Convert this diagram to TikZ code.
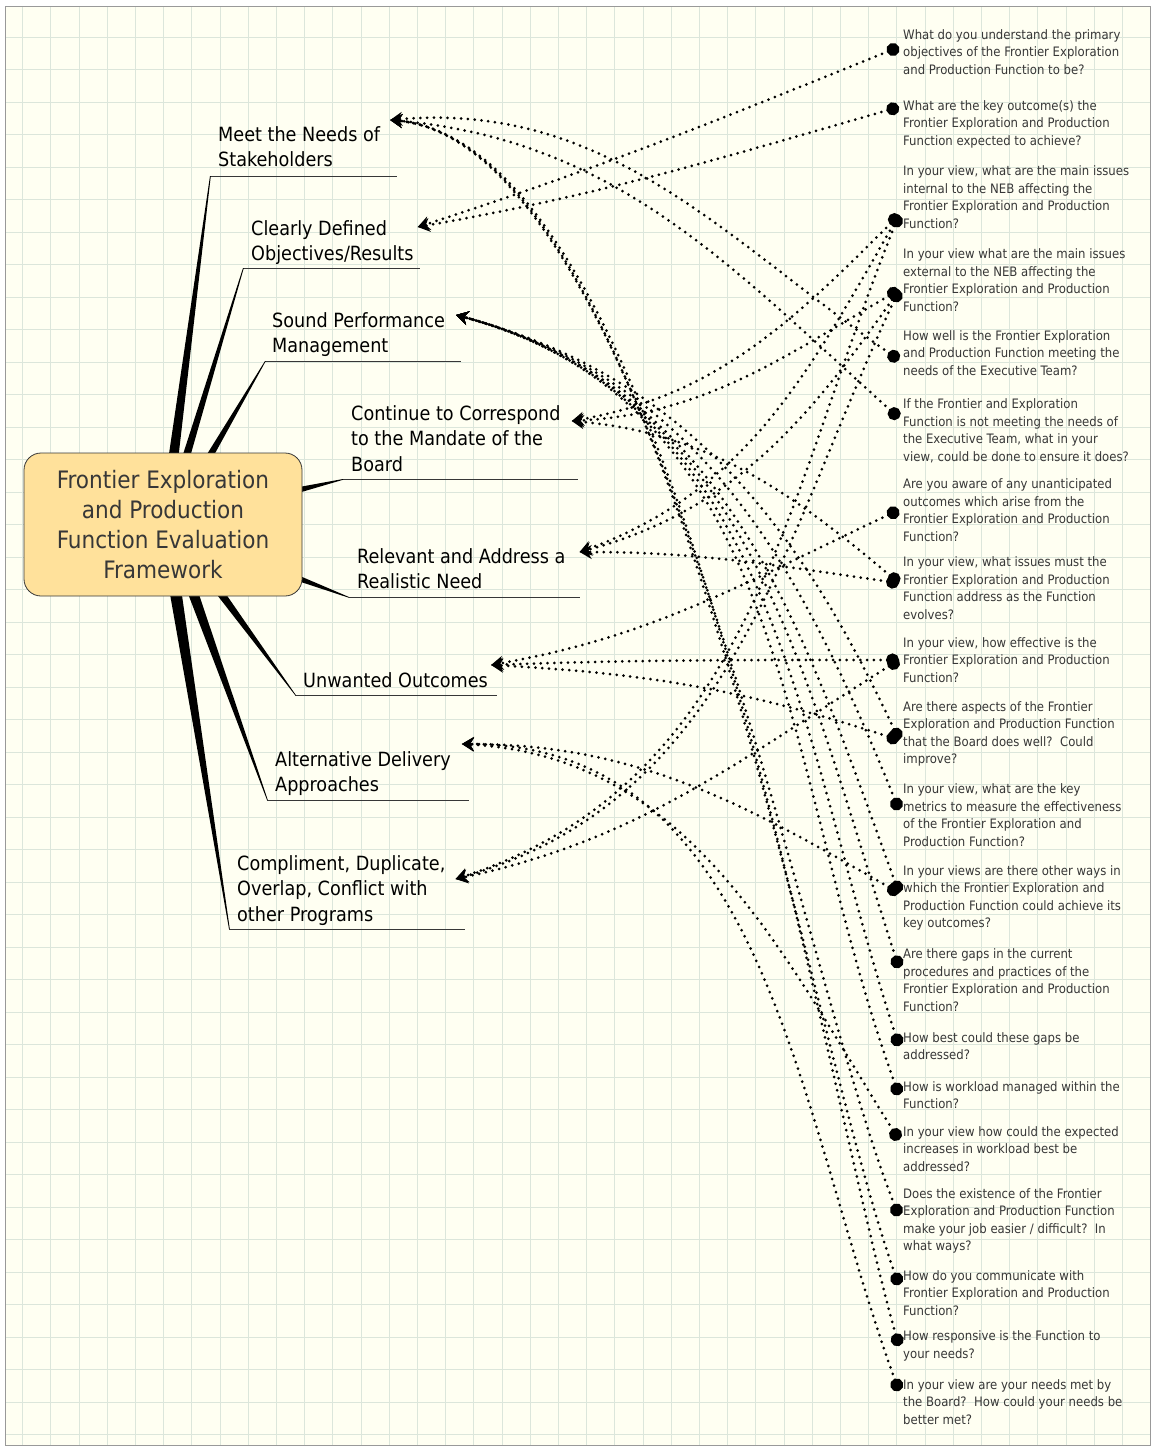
\documentclass[tikz,border=0pt]{standalone}
\usepackage{fontspec}
\setmainfont{DejaVu Sans Condensed}
\usepackage{tikz}
\usetikzlibrary{arrows.meta, calc, positioning, backgrounds}

\definecolor{paper}{RGB}{255,255,242}
\definecolor{gridgreen}{RGB}{220,230,219}
\definecolor{hubfill}{RGB}{255,225,155}
\definecolor{darkink}{RGB}{55,55,55}

\tikzset{
  hub/.style={draw=darkink, line width=0.8pt, fill=hubfill, rounded corners=17pt,
    minimum width=278pt, minimum height=143pt, align=center, text=darkink,
    font=\fontsize{24}{29.7}\selectfont},
  topic/.style={anchor=north west, align=left, inner sep=0pt, text=black,
    font=\fontsize{19.6}{25.8}\selectfont},
  question/.style={anchor=west, align=left, inner xsep=4pt, inner ysep=0pt, text=darkink,
    font=\fontsize{13}{17.5}\selectfont},
  branch/.style={fill=black},
  underline/.style={draw=darkink, line width=0.9pt},
  link/.style={line width=3pt, line cap=round, dash pattern=on 0pt off 6.8pt,
    arrows={Circle[length=13pt,width=13pt]-Stealth[length=12pt,width=14pt,inset=4pt]}},
}

\begin{document}
\begin{tikzpicture}[x=1pt, y=-1pt]
% Grid parameters
\pgfmathsetmacro{\gx}{28.2}
\pgfmathsetmacro{\gy}{32.5}
\useasboundingbox (0,0) rectangle (1151,1446);

% Central topic
\node[hub] (hub) at (163,524.5) {Frontier Exploration\\and Production\\Function Evaluation\\Framework};

\begin{scope}[on background layer]
% Draw paper and grid
\fill[paper] (5,6) rectangle (1150,1445);
\foreach \i in {0,...,39} \draw[gridgreen, line width=1pt] ({22.7+\i*\gx},6) -- ({22.7+\i*\gx},1445);
\foreach \j in {0,...,43} \draw[gridgreen, line width=1pt] (5,{37.3+\j*\gy}) -- (1150,{37.3+\j*\gy});
\draw[black!40, line width=1pt] (5,6) rectangle (1150,1445);

% Draw underlines
\draw[underline] (210,176) coordinate (u1) -- (397,176);
\draw[underline] (243,268) coordinate (u2) -- (420,268);
\draw[underline] (265,361) coordinate (u3) -- (461,361);
\draw[underline] (343,479) coordinate (u4) -- (578,479);
\draw[underline] (349,597) coordinate (u5) -- (580,597);
\draw[underline] (295,695) coordinate (u6) -- (497,695);
\draw[underline] (267,800) coordinate (u7) -- (469,800);
\draw[underline] (229,929) coordinate (u8) -- (465,929);

% Draw branches
\fill[branch] ($(hub.north)+(5,8)$) -- ($(hub.north)+(15,8)$) -- ($(u1)+(0.8,0)$) -- (u1) -- cycle;
\fill[branch] ($(hub.north)+(18,8)$) -- ($(hub.north)+(26,8)$) -- ($(u2)+(0.8,0)$) -- (u2) -- cycle;
\fill[branch] ($(hub.north)+(40,8)$) -- ($(hub.north)+(48,8)$) -- ($(u3)+(0.8,0)$) -- (u3) -- cycle;
\fill[branch] ($(hub.east)+(-6,-37)$) -- ($(hub.east)+(-6,-31)$) -- ($(u4)+(0,0.8)$) -- (u4) -- cycle;
\fill[branch] ($(hub.east)+(-6,50)$) -- ($(hub.east)+(-6,56)$) -- ($(u5)+(0,0.8)$) -- (u5) -- cycle;
\fill[branch] ($(hub.south)+(49,-8)$) -- ($(hub.south)+(59,-8)$) -- ($(u6)+(0.8,0)$) -- (u6) -- cycle;
\fill[branch] ($(hub.south)+(23,-8)$) -- ($(hub.south)+(34,-8)$) -- ($(u7)+(0.8,0)$) -- (u7) -- cycle;
\fill[branch] ($(hub.south)+(6,-8)$) -- ($(hub.south)+(18,-8)$) -- ($(u8)+(0.8,0)$) -- (u8) -- cycle;
\end{scope}

% Main topics
\node[topic] (t1) at (218,126) {Meet the Needs of\\Stakeholders};
\node[topic] (t2) at (251,220) {Clearly Defined\\Objectives/Results};
\node[topic] (t3) at (272,312) {Sound Performance\\Management};
\node[topic] (t4) at (351,405) {Continue to Correspond\\to the Mandate of the\\Board};
\node[topic] (t5) at (357,548) {Relevant and Address a\\Realistic Need};
\node[topic] (t6) at (303,672) {Unwanted Outcomes};
\node[topic] (t7) at (275,751) {Alternative Delivery\\Approaches};
\node[topic] (t8) at (237,855) {Compliment, Duplicate,\\Overlap, Conflict with\\other Programs};

% Arrow ports of the topics
\coordinate (p1) at ([shift={(10pt,6pt)}]t1.north east);
\coordinate (p2) at ([shift={(4pt,-7pt)}]t2.north east);
\coordinate (p3) at ([shift={(11pt,-3pt)}]t3.north east);
\coordinate (p4) at ([shift={(11pt,-16pt)}]t4.north east);
\coordinate (p5) at ([shift={(14pt,-4pt)}]t5.north east);
\coordinate (p6) at ([shift={(3pt,7pt)}]t6.north east);
\coordinate (p7) at ([shift={(11pt,7pt)}]t7.north east);
\coordinate (p8) at ([shift={(10pt,-24pt)}]t8.north east);

% Questions
\node[question] (q1) at (899,52) {What do you understand the primary\\objectives of the Frontier Exploration\\and Production Function to be?};
\node[question] (q2) at (899,124) {What are the key outcome(s) the\\Frontier Exploration and Production\\Function expected to achieve?};
\node[question] (q3) at (899,197) {In your view, what are the main issues\\internal to the NEB affecting the\\Frontier Exploration and Production\\Function?};
\node[question] (q4) at (899,280) {In your view what are the main issues\\external to the NEB affecting the\\Frontier Exploration and Production\\Function?};
\node[question] (q5) at (899,353) {How well is the Frontier Exploration\\and Production Function meeting the\\needs of the Executive Team?};
\node[question] (q6) at (899,431) {If the Frontier and Exploration\\Function is not meeting the needs of\\the Executive Team, what in your\\view, could be done to ensure it does?};
\node[question] (q7) at (899,510) {Are you aware of any unanticipated\\outcomes which arise from the\\Frontier Exploration and Production\\Function?};
\node[question] (q8) at (899,588) {In your view, what issues must the\\Frontier Exploration and Production\\Function address as the Function\\evolves?};
\node[question] (q9) at (899,660) {In your view, how effective is the\\Frontier Exploration and Production\\Function?};
\node[question] (q10) at (899,734) {Are there aspects of the Frontier\\Exploration and Production Function\\that the Board does well?\ \ Could\\improve?};
\node[question] (q11) at (899,815) {In your view, what are the key\\metrics to measure the effectiveness\\of the Frontier Exploration and\\Production Function?};
\node[question] (q12) at (899,898) {In your views are there other ways in\\which the Frontier Exploration and\\Production Function could achieve its\\key outcomes?};
\node[question] (q13) at (899,980) {Are there gaps in the current\\procedures and practices of the\\Frontier Exploration and Production\\Function?};
\node[question] (q14) at (899,1046) {How best could these gaps be\\addressed?};
\node[question] (q15) at (899,1095) {How is workload managed within the\\Function?};
\node[question] (q16) at (899,1149) {In your view how could the expected\\increases in workload best be\\addressed?};
\node[question] (q17) at (899,1221) {Does the existence of the Frontier\\Exploration and Production Function\\make your job easier / difficult?\ \ In\\what ways?};
\node[question] (q18) at (899,1293) {How do you communicate with\\Frontier Exploration and Production\\Function?};
\node[question] (q19) at (899,1346) {How responsive is the Function to\\your needs?};
\node[question] (q20) at (899,1402) {In your view are your needs met by\\the Board?\ \ How could your needs be\\better met?};

% Links: Meet the Needs of Stakeholders
\draw[link] ([yshift=-7pt]q5.west) .. controls +(145:217pt) and +(5:217pt) .. (p1);
\draw[link] ([yshift=13pt]q6.west) .. controls +(138:227pt) and +(-5:227pt) .. (p1);
\draw[link] ([yshift=5pt]q17.west) .. controls +(112:259pt) and +(-5:259pt) .. (p1);
\draw[link] ([yshift=8pt]q18.west) .. controls +(110:273pt) and +(-5:273pt) .. (p1);
\draw[link] (q19.west) .. controls +(106:285pt) and +(-5:285pt) .. (p1);
% Links: Clearly Defined Objectives/Results
\draw[link] ([yshift=5pt]q1.west) .. controls +(202:197pt) and +(18:197pt) .. (p2);
\draw[link] ([yshift=17pt]q2.west) .. controls +(196:190pt) and +(10:190pt) .. (p2);
% Links: Sound Performance Management
\draw[link] ([yshift=-6pt]q10.west) .. controls +(115:238pt) and +(-15:238pt) .. (p3);
\draw[link] ([yshift=5pt]q11.west) .. controls +(112:257pt) and +(-15:257pt) .. (p3);
\draw[link] ([yshift=5pt]q12.west) .. controls +(110:282pt) and +(-15:282pt) .. (p3);
\draw[link] ([yshift=12pt]q13.west) .. controls +(108:306pt) and +(-15:306pt) .. (p3);
\draw[link] (q14.west) .. controls +(108:331pt) and +(-15:331pt) .. (p3);
\draw[link] (q15.west) .. controls +(110:348pt) and +(-15:348pt) .. (p3);
% Links: Continue to Correspond to the Mandate
\draw[link] ([yshift=-18pt]q3.west) .. controls +(225:148pt) and +(10:148pt) .. (p4);
\draw[link] ([yshift=-10pt]q4.west) .. controls +(210:134pt) and +(3:134pt) .. (p4);
\draw[link] ([yshift=5pt]q8.west) .. controls +(140:139pt) and +(-5:139pt) .. (p4);
% Links: Relevant and Address a Realistic Need
\draw[link] ([yshift=-18pt]q3.west) .. controls +(240:180pt) and +(20:180pt) .. (p5);
\draw[link] ([yshift=-10pt]q4.west) .. controls +(235:159pt) and +(15:159pt) .. (p5);
\draw[link] ([yshift=5pt]q8.west) .. controls +(172:123pt) and +(0:123pt) .. (p5);
% Links: Unwanted Outcomes
\draw[link] (q7.west) .. controls +(205:169pt) and +(10:169pt) .. (p6);
\draw[link] (q9.west) .. controls +(180:157pt) and +(2:157pt) .. (p6);
\draw[link] ([yshift=-6pt]q10.west) .. controls +(162:160pt) and +(-3:160pt) .. (p6);
% Links: Alternative Delivery Approaches
\draw[link] ([yshift=5pt]q12.west) .. controls +(150:176pt) and +(0:176pt) .. (p7);
\draw[link] ([yshift=9pt]q16.west) .. controls +(122:227pt) and +(-3:227pt) .. (p7);
\draw[link] ([yshift=11pt]q20.west) .. controls +(110:303pt) and +(0:303pt) .. (p7);
% Links: Compliment, Duplicate, Overlap
\draw[link] ([yshift=-18pt]q3.west) .. controls +(248:310pt) and +(18:310pt) .. (p8);
\draw[link] ([yshift=-10pt]q4.west) .. controls +(245:286pt) and +(16:286pt) .. (p8);
\draw[link] (q9.west) .. controls +(212:190pt) and +(12:190pt) .. (p8);
\end{tikzpicture}
\end{document}
